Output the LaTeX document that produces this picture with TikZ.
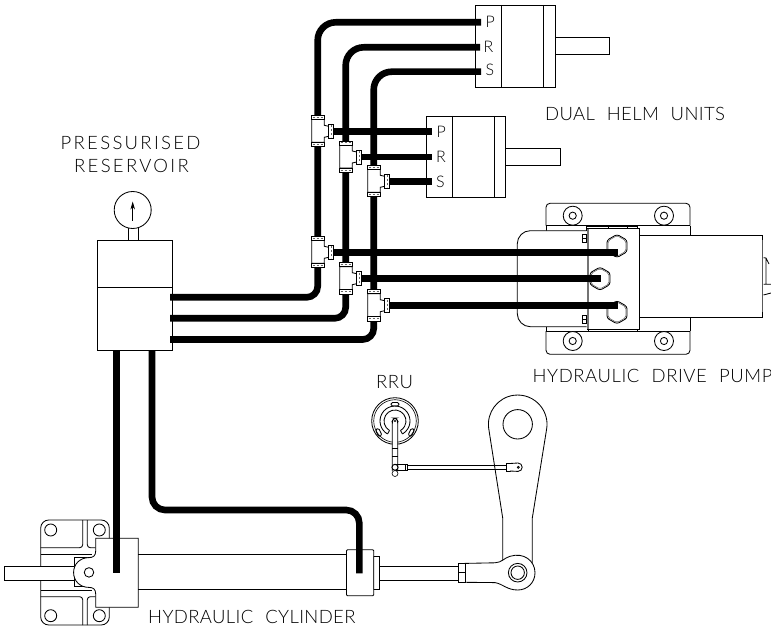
\documentclass[tikz,border=0pt]{standalone}
\usepackage{fontspec}
\newfontfamily\lblfont[LetterSpace=3,WordSpace=2.2]{Lato Light}
\newfontfamily\lblwide[LetterSpace=12.5,WordSpace=2.2]{Lato Light}
\newfontfamily\lbltight[LetterSpace=2,WordSpace=2.2]{Lato Light}
\usetikzlibrary{arrows.meta}
\tikzset{
  part/.style={draw=black,line width=0.85pt,fill=white,inner sep=0pt,rectangle},
  ln/.style={draw=black,line width=0.85pt},
  pipeline/.style={draw=black,line width=6.6pt,line cap=butt},
  bigl/.style={font=\lblfont\fontsize{18.5}{18}\selectfont,inner sep=0pt,anchor=base west,text=black},
  bigw/.style={font=\lblwide\fontsize{18.5}{18}\selectfont,inner sep=0pt,anchor=base west,text=black},
  bigt/.style={font=\lbltight\fontsize{18.5}{18}\selectfont,inner sep=0pt,anchor=base west,text=black},
  port/.style={font=\lblfont\fontsize{16}{16}\selectfont,inner sep=0pt,anchor=base west,text=black},
  teefit/.pic={
    \draw[ln,fill=white] (-6,-12) -- (-6,11) -- (6.5,11) -- (6.5,6) -- (11,5) -- (11,-5) -- (6.5,-6) -- (6.5,-12) -- cycle;
    \draw[ln,fill=white] (-6,-16) rectangle (6.5,-12);
    \draw[ln,fill=white] (-6,11) rectangle (6.5,15.5);
    \draw[ln,fill=white] (11,-7) rectangle (16,7);
    \draw[line width=1pt,black!60,dash pattern=on 2pt off 2pt] (-5,-14) -- (6,-14);
    \draw[line width=1pt,black!60,dash pattern=on 2pt off 2pt] (-5,13.2) -- (6,13.2);
    \draw[line width=1pt,black!60,dash pattern=on 2pt off 2pt] (13.5,-6) -- (13.5,6);
  },
  hexbolt/.pic={
    \draw[line width=0.85pt,fill=white,rounded corners=2.5pt] (30:11.6) -- (90:11.6) -- (150:11.6) -- (210:11.6) -- (270:11.6) -- (330:11.6) -- cycle;
    \draw[line width=0.6pt,black!60,rounded corners=2pt] (30:10.4) -- (90:10.4) -- (150:10.4) -- (210:10.4) -- (270:10.4) -- (330:10.4) -- cycle;
  },
  plate/.pic={
    \draw[ln,fill=white] (0,0) circle (9.5);
    \draw[ln,fill=white] (0,0) circle (3.6);
  },
  bore/.pic={
    \draw[ln,fill=white] (0,0) circle (6);
  },
}
\begin{document}
\begin{tikzpicture}[x=1pt,y=-1pt]
\useasboundingbox (0,0) rectangle (771,628);
\fill[white] (0,0) rectangle (771,628);

% ---- helm units
\node[part,anchor=north west,minimum width=79.7pt,minimum height=82pt] (helmA) at (475.3,5) {};
\draw[ln] (501.7,5) -- (501.7,87) (543.3,5) -- (543.3,87);
\draw[part] (555,37.7) rectangle (609.3,54.3);
\node[part,anchor=north west,minimum width=79pt,minimum height=81.3pt] (helmB) at (426.3,116) {};
\draw[ln] (452.3,116) -- (452.3,197.3) (494,116) -- (494,197.3);
\draw[part] (505.3,148.3) rectangle (560.3,165);

% ---- reservoir
\node[part,anchor=north west,minimum width=74.4pt,minimum height=110pt] (res) at (97.3,240) {};
\draw[ln] (97.3,287.3) -- (171.7,287.3);
\draw[ln] (128.3,226.5) -- (128.3,240) (138.7,226.5) -- (138.7,240);
\node[draw=black,line width=0.85pt,circle,fill=white,minimum size=37pt,inner sep=0pt] (gauge) at (132.7,210) {};
\draw[line width=0.7pt,-{Stealth[length=8pt,width=4.5pt]}] (132.7,220.7) -- (132.7,201.5);

% ---- drive pump
\draw[part,rounded corners=4pt] (546,225.7) -- (546,203.3) -- (690,203.3) -- (690,225.7);
\draw[ln] (546,225.7) -- (690,225.7);
\draw[ln] (690,225.7) -- (690,235);
\draw[ln] (546,225.7) -- (546,230.7);
\draw[part,rounded corners=4pt] (546,331) -- (546,354.3) -- (690,354.3) -- (690,331);
\draw[ln] (546,331) -- (690,331);
\draw[ln] (690,317) -- (690,331);
\draw[ln] (546,326.7) -- (546,331);
\pic at (572.7,215.7) {plate};
\pic at (664,215.7) {plate};
\pic at (572.7,341) {plate};
\pic at (664,341) {plate};
\draw[part,rounded corners=13pt] (586.7,230.7) -- (517.3,230.7) -- (517.3,326.7) -- (586.7,326.7);
\node[part,anchor=north west,minimum width=122.4pt,minimum height=82pt] (motor) at (639.3,235.2) {};
\draw[line width=1.6pt,black!65] (762.6,240) -- (762.6,312);
\draw[ln] (763.5,257.7) -- (766,258) -- (766,284.3) (763.5,284.3) -- (771,284.3) (766,258) -- (769,264) (763.5,295) -- (771,293);
\draw[ln] (586.7,226.8) rectangle (637.5,230) ;
\draw[ln] (608,226.8) -- (608,230) (627,226.8) -- (627,230);
\draw[ln] (588.5,329) -- (588.5,331.5) -- (637.5,331.5) -- (637.5,329);
\node[part,anchor=north west,minimum width=52.6pt,minimum height=100.7pt] (block) at (586.7,228.3) {};
\draw[line width=1.5pt,black!55] (588,229) -- (588,328.5);
\draw[ln,fill=white] (582,234) rectangle (586.7,242.5);
\draw[ln] (582,238) -- (586.7,238);
\draw[ln,fill=white] (582,315) rectangle (586.7,323.5);
\draw[ln] (582,319) -- (586.7,319);
\pic at (617,246) {hexbolt};
\pic at (600,278.7) {hexbolt};
\pic at (617,312.3) {hexbolt};

% ---- hydraulic cylinder
\draw[part,rounded corners=8pt] (40.7,520) rectangle (109.3,625);
\draw[ln,rounded corners=3pt] (40.7,547.7) -- (82.7,547.7) -- (82.7,520);
\draw[ln,rounded corners=3pt] (95.7,547.7) -- (87.3,547.7) -- (87.3,520);
\draw[ln,rounded corners=3pt] (40.7,596.7) -- (82.7,596.7) -- (82.7,625);
\draw[ln,rounded corners=3pt] (95.7,596.7) -- (87.3,596.7) -- (87.3,625);
\draw[ln] (40.7,554) -- (92,554) (40.7,590) -- (92,590);
\draw[part] (4.3,566.7) rectangle (74,580);
\pic at (50.7,530) {bore};
\pic at (99.3,530) {bore};
\pic at (50.7,615.7) {bore};
\pic at (99.3,615.7) {bore};
\draw[line width=0.85pt,fill=white] (74.3,557.7) rectangle (92,586.7);
\draw[line width=0.85pt,fill=white] (95.7,538.3) -- (138.3,538.3) -- (138.3,607.3) -- (95.7,607.3) -- (95.7,594) .. controls (95.7,589) and (93,587.4) .. (89,587.4) .. controls (80,587.4) and (73.6,581) .. (73.6,572.5) .. controls (73.6,564) and (80,557.6) .. (89,557.6) .. controls (93,557.6) and (95.7,556) .. (95.7,551) -- cycle;
\node[draw=black,line width=0.85pt,circle,fill=white,minimum size=9.5pt,inner sep=0pt] (pivot) at (89,572.4) {};
\draw[ln] (138.3,554) -- (346,554);
\draw[ln] (138.3,589.3) -- (238,589.3);
\draw[line width=1.6pt] (238,589.3) -- (346,589.3);
\draw[part] (373.3,556) rectangle (379.3,589.3);
\node[part,anchor=north west,minimum width=27.3pt,minimum height=46pt,rounded corners=1pt] (collar) at (346,549.3) {};
\draw[ln] (379.3,566) -- (458.3,566) (379.3,580.7) -- (458.3,580.7);

% rudder arm
\draw[ln] (502.7,562) -- (502.7,518) -- (488.7,428.4) arc (172:368:29.3) -- (532.3,518) -- (532.3,563);
\node[draw=black,line width=0.85pt,circle,minimum size=29.4pt,inner sep=0pt] (armhole) at (517.7,424.3) {};
\draw[part,line width=0.85pt] (465,563.4) -- (495,562.8) .. controls (502,562.5) and (504,558) .. (510,556.3) .. controls (524,552) and (535,561) .. (535,572.7) .. controls (535,583) and (527,590) .. (517.7,590) .. controls (507,590) and (503,584) .. (495,582.6) -- (465,582.3) -- cycle;
\draw[part] (458.3,563.4) rectangle (465,582.3);
\draw[ln] (458.3,572.8) -- (465,572.8);
\node[draw=black,line width=0.85pt,circle,fill=white,minimum size=18.6pt,inner sep=0pt] (eyeo) at (517.7,572.7) {};
\node[draw=black,line width=0.85pt,circle,fill=white,minimum size=13.4pt,inner sep=0pt] (eyei) at (517.7,572.7) {};

% ---- RRU
\node[draw=black,line width=0.85pt,circle,minimum size=46.6pt,inner sep=0pt] (rruo) at (395,421) {};
\node[draw=black,line width=0.6pt,circle,minimum size=42.6pt,inner sep=0pt] (rrum) at (395,421) {};
\draw[ln] (395,421) ++(120:15) arc (120:420:15);
\draw[ln] (395,421) ++(120:11) arc (120:420:11);
\draw[ln] (395,421) ++(120:15) -- ++(120:-4);
\draw[ln] (395,421) ++(60:15) -- ++(60:-4);
\draw[ln,rounded corners=1.5pt] (391,402.5) rectangle (399,406);
\draw[ln,rounded corners=1.5pt,rotate around={-65:(378.7,432.5)}] (374.7,430.7) rectangle (382.7,434.3);
\draw[ln,rounded corners=1.5pt,rotate around={65:(411.3,432.5)}] (407.3,430.7) rectangle (415.3,434.3);
\draw[part,rounded corners=2.4pt] (392.3,471) -- (392.3,421) -- (394,418) -- (396,418) -- (397.7,421) -- (397.7,471);
\fill (395,421) circle (1.1);
\draw[ln] (392.3,448) -- (397.7,448);
\draw[ln] (392.3,456) -- (397.7,456);
\draw[ln] (395,464) -- (405,464) -- (405,470.5) -- (395,470.5);
\draw[ln] (405,464) rectangle (407,470.5);
\draw[ln] (407,465.7) -- (506.7,465.7) (407,469) -- (506.7,469);
\draw[ln,fill=white] (506.7,463.5) rectangle (510,471);
\draw[ln,fill=white] (510,463.5) -- (518,463) arc (270:450:4.2) -- (510,471);
\node[draw=black,line width=0.6pt,circle,fill=black!70,minimum size=2.2pt,inner sep=0pt] (linkeye) at (518.3,467.3) {};
\node[draw=black,line width=1pt,circle,fill=white,minimum size=6pt,inner sep=0pt] (leverpin) at (395,467.3) {};
\node[draw=black,line width=0.6pt,circle,fill=white,minimum size=6pt,inner sep=0pt] (leverend) at (395,473.5) {};

% ---- pipe end points
\coordinate (rP) at (170,297.3);
\coordinate (rR) at (170,318.3);
\coordinate (rS) at (170,339.5);
\coordinate (kP) at (317.7,297.3);
\coordinate (kR) at (345.7,318.3);
\coordinate (kS) at (373.7,339.5);
\coordinate (mP) at (317.7,131.3);
\coordinate (mR) at (345.7,157);
\coordinate (mS) at (373.7,181.3);
\coordinate (uP) at (317.7,22.3);
\coordinate (uR) at (345.7,47.3);
\coordinate (uS) at (373.7,71.7);
\coordinate (aP) at (481,22.3);
\coordinate (aR) at (480,47.3);
\coordinate (aS) at (481,71.7);
\coordinate (bP) at (431.7,131.3);
\coordinate (bR) at (431.7,157);
\coordinate (bS) at (431.7,181.3);
\coordinate (tP) at (317.7,252.3);
\coordinate (tR) at (345.7,278.7);
\coordinate (tS) at (373.7,305.7);
\coordinate (pP) at (618,252.3);
\coordinate (pR) at (600.7,278.7);
\coordinate (pS) at (618,305.7);
\coordinate (cL0) at (116.5,350);
\coordinate (cL1) at (116.5,573.3);
\coordinate (cR0) at (152,350);
\coordinate (cR1) at (152,510);
\coordinate (cR2) at (359.3,510);
\coordinate (cR3) at (359.3,573.3);

% ---- pipes
\draw[pipeline,rounded corners=11pt] (rP) -- (kP) -- (mP);
\draw[pipeline,rounded corners=11pt] (rR) -- (kR) -- (mR);
\draw[pipeline,rounded corners=11pt] (rS) -- (kS) -- (mS);
\draw[pipeline,rounded corners=18pt] (mP) -- (uP) -- (aP);
\draw[pipeline,rounded corners=18pt] (mR) -- (uR) -- (aR);
\draw[pipeline,rounded corners=18pt] (mS) -- (uS) -- (aS);
\draw[pipeline] (mP) -- (bP);
\draw[pipeline] (mR) -- (bR);
\draw[pipeline] (mS) -- (bS);
\draw[pipeline] (tP) -- (pP);
\draw[pipeline] (tR) -- (pR);
\draw[pipeline] (tS) -- (pS);
\draw[pipeline] (cL0) -- (cL1);
\draw[pipeline,rounded corners=13pt] (cR0) -- (cR1) -- (cR2) -- (cR3);

% ---- tee fittings
\pic at (mP) {teefit};
\pic at (mR) {teefit};
\pic at (mS) {teefit};
\pic at (tP) {teefit};
\pic at (tR) {teefit};
\pic at (tS) {teefit};

% ---- labels
\node[port] (lPa) at (485.5,27.5) {P};
\node[port] (lRa) at (483.5,52.5) {R};
\node[port] (lSa) at (485.5,75.5) {S};
\node[port] (lPb) at (436.5,137.5) {P};
\node[port] (lRb) at (436,163) {R};
\node[port] (lSb) at (436,187.5) {S};
\node[bigt] (tDual) at (545,120.5) {DUAL HELM UNITS};
\node[bigw] (tPres) at (60.5,149.3) {PRESSURISED};
\node[bigw] (tResv) at (74,172.3) {RESERVOIR};
\node[bigl] (tPump) at (532.5,382.7) {HYDRAULIC DRIVE PUMP};
\node[bigl] (tRRU) at (376,388) {RRU};
\node[bigt] (tCyl) at (148,623) {HYDRAULIC CYLINDER};
\end{tikzpicture}
\end{document}
